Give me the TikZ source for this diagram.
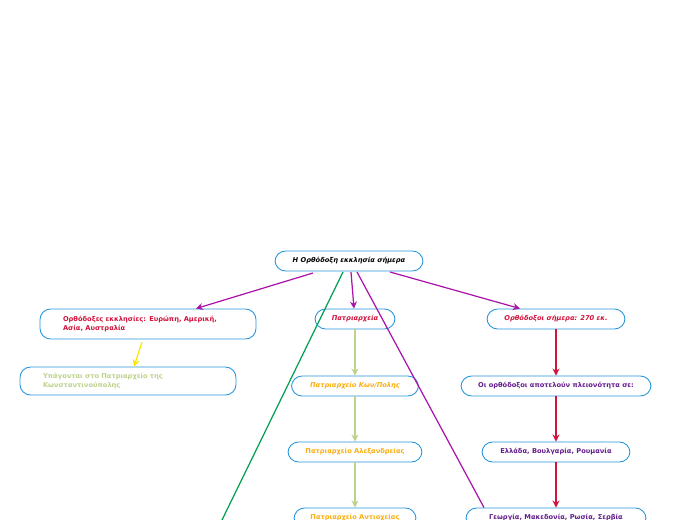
\documentclass[tikz,border=0pt]{standalone}
\usepackage{fontspec}
\setmainfont{DejaVu Sans}
\usetikzlibrary{arrows.meta}
\definecolor{mapblue}{RGB}{40,150,220}
\definecolor{mappurple}{RGB}{170,20,170}
\definecolor{mapred}{RGB}{210,20,60}
\definecolor{maporange}{RGB}{250,175,20}
\definecolor{mapolive}{RGB}{190,210,140}
\definecolor{mapviolet}{RGB}{100,30,140}
\definecolor{mapgreen}{RGB}{0,160,80}
\definecolor{mapyellow}{RGB}{250,230,0}
\begin{document}
\begin{tikzpicture}[x=0.02cm, y=-0.02cm,
        topic/.style={rectangle, rounded corners=6pt, draw=mapblue, fill=white, line width=0.5pt, minimum height=0.4cm, inner sep=1pt, align=center, font=\fontsize{3.8}{4.6}\selectfont\bfseries},
        arrow/.style={-{Stealth[length=4pt, width=4pt]}, line width=0.7pt}
    ]
        \useasboundingbox (0,0) rectangle (696,520);
        % Boxes
        \node[topic, minimum width=2.96cm, font=\fontsize{3.8}{4.6}\selectfont\bfseries\itshape] (root) at (349,261) {Η Ορθόδοξη εκκλησία σήμερα};
        \node[topic, minimum width=4.32cm, minimum height=0.6cm, text width=3.4cm, align=left, text=mapred] (churches) at (148,324) {Ορθόδοξες εκκλησίες: Ευρώπη, Αμερική, Ασία, Αυστραλία};
        \node[topic, minimum width=4.32cm, minimum height=0.56cm, text width=3.4cm, align=left, text=mapolive] (subject) at (128,381) {Υπάγονται στο Πατριαρχείο της Κωνσταντινούπολης};
        \node[topic, minimum width=1.6cm, text=mapred, font=\fontsize{3.8}{4.6}\selectfont\bfseries\itshape] (patr) at (355,319) {Πατριαρχεία};
        \node[topic, minimum width=2.54cm, text=maporange, font=\fontsize{3.8}{4.6}\selectfont\bfseries\itshape] (konst) at (355,386) {Πατριαρχείο Κων/Πολης};
        \node[topic, minimum width=2.68cm, text=maporange] (alex) at (355,452) {Πατριαρχείο Αλεξανδρείας};
        \node[topic, minimum width=2.44cm, text=maporange] (antioch) at (355,518) {Πατριαρχείο Αντιοχείας};
        \node[topic, minimum width=2.76cm, text=mapred, font=\fontsize{3.8}{4.6}\selectfont\bfseries\itshape] (today) at (556,319) {Ορθόδοξοι σήμερα: 270 εκ.};
        \node[topic, minimum width=3.8cm, text=mapviolet] (majority) at (556,386) {Οι ορθόδοξοι αποτελούν πλειονότητα σε:};
        \node[topic, minimum width=2.96cm, text=mapviolet] (greece) at (556,452) {Ελλάδα, Βουλγαρία, Ρουμανία};
        \node[topic, minimum width=3.6cm, text=mapviolet] (georgia) at (556,518) {Γεωργία, Μακεδονία, Ρωσία, Σερβία};
        \coordinate (lowleft) at (222,520);

        % Arrows
        \draw[arrow, mappurple] (313,273) -- (churches.north -| 196,0);
        \draw[arrow, mappurple] (351,272) -- (patr.north -| 354,0);
        \draw[arrow, mappurple] (390,272) -- (today.north -| 520,0);
        \draw[mappurple, line width=0.7pt] (357,272) -- (georgia.north -| 484,0);
        \draw[mapgreen, line width=0.7pt] (343,272) -- (lowleft);
        \draw[arrow, mapyellow] (142,342) -- (subject.north -| 134,0);
        \draw[arrow, mapolive] (patr) -- (konst);
        \draw[arrow, mapolive] (konst) -- (alex);
        \draw[arrow, mapolive] (alex) -- (antioch);
        \draw[arrow, mapred] (today) -- (majority);
        \draw[arrow, mapred] (majority) -- (greece);
        \draw[arrow, mapred] (greece) -- (georgia);
    \end{tikzpicture}
\end{document}
